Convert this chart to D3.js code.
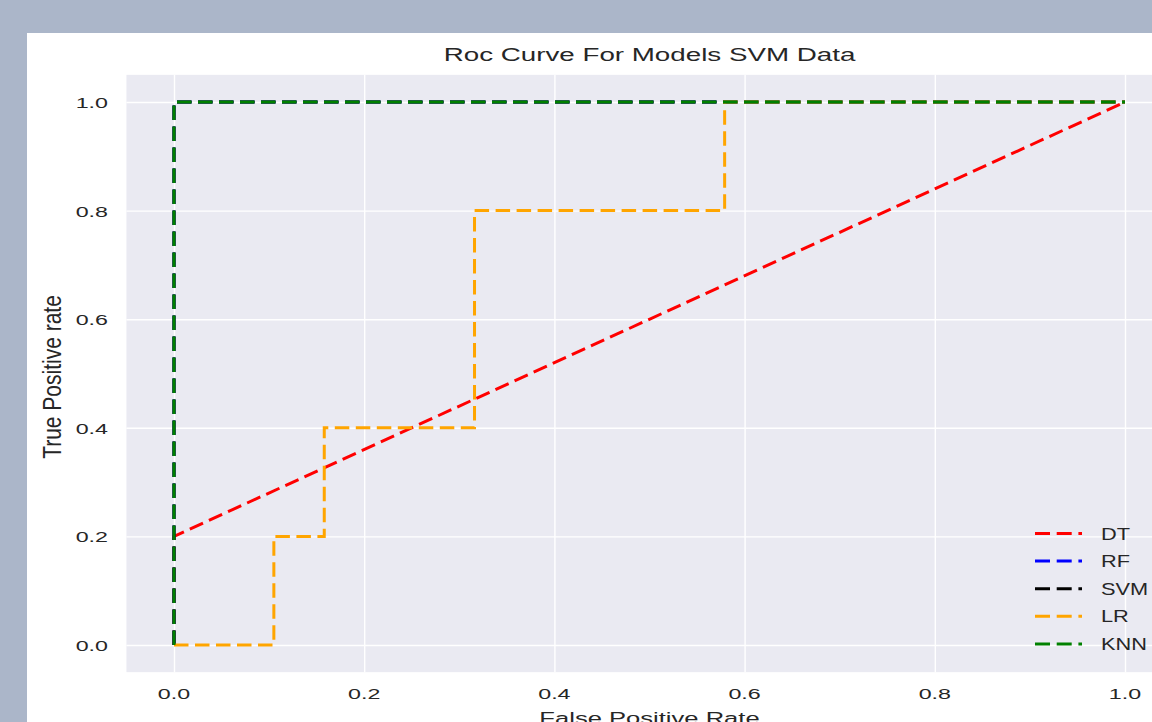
<!DOCTYPE html>
<html><head><meta charset="utf-8">
<script src="https://cdn.jsdelivr.net/npm/d3@7"></script>
<style>
html,body{margin:0;padding:0;background:#abb6c9;overflow:hidden}
svg{display:block}
text{font-family:"Liberation Sans",Arial,sans-serif;fill:#262626}
</style></head>
<body>
<svg id="c" width="1152" height="722"></svg>
<script>
// ---- data ----
const modelNames = ["DT","RF","SVM","LR","KNN"];
const modelColors = ["#ff0000","#0000ff","#000000","#ffa500","#008000"];
const fprDT  = [0, 0, 1];
const tprDT  = [0, 0.2, 1];
const fprRF  = [0, 0, 1];
const tprRF  = [0, 1, 1];
const fprSVM = [0, 0, 1];
const tprSVM = [0, 1, 1];
const fprLR  = [0, 0.105, 0.105, 0.158, 0.158, 0.316, 0.316, 0.579, 0.579, 1];
const tprLR  = [0, 0, 0.2, 0.2, 0.4, 0.4, 0.8, 0.8, 1, 1];
const fprKNN = [0, 0, 1];
const tprKNN = [0, 1, 1];
const xTicks = [0, 0.2, 0.4, 0.6, 0.8, 1.0];
const yTicks = [0, 0.2, 0.4, 0.6, 0.8, 1.0];
const titleText = "Roc Curve For Models SVM Data";
const xLabelText = "False Positive Rate";
const yLabelText = "True Positive rate";

const curves = [
  {name:"DT", fpr:fprDT, tpr:tprDT},
  {name:"RF", fpr:fprRF, tpr:tprRF},
  {name:"SVM", fpr:fprSVM, tpr:tprSVM},
  {name:"LR", fpr:fprLR, tpr:tprLR},
  {name:"KNN", fpr:fprKNN, tpr:tprKNN}
];

const svg = d3.select("#c");
// white figure panel
svg.append("rect").attr("x",27).attr("y",33).attr("width",1200).attr("height",800).attr("fill","#ffffff");

const x = d3.scaleLinear().domain([-0.05,1.05]).range([126.45,1172.55]);
const y = d3.scaleLinear().domain([-0.05,1.05]).range([672.15,74.85]);

// plot area
svg.append("rect").attr("x",x(-0.05)).attr("y",y(1.05))
  .attr("width",x(1.05)-x(-0.05)).attr("height",y(-0.05)-y(1.05)).attr("fill","#eaeaf2");

// grid via axes
const gx = svg.append("g").attr("transform",`translate(0,${y(-0.05)})`)
  .call(d3.axisBottom(x).tickValues(xTicks).tickSize(-(y(-0.05)-y(1.05))).tickFormat(""));
const gy = svg.append("g").attr("transform",`translate(${x(-0.05)},0)`)
  .call(d3.axisLeft(y).tickValues(yTicks).tickSize(-(x(1.05)-x(-0.05))).tickFormat(""));
[gx,gy].forEach(g=>{
  g.select(".domain").remove();
  g.selectAll(".tick line").attr("stroke","#ffffff").attr("stroke-width",1.4);
});

// tick labels (stretched horizontally like the reference)
const fmt = d3.format(".1f");
svg.append("g").selectAll("text").data(xTicks).join("text")
  .attr("transform",d=>`translate(${x(d)},699) scale(1.5,1)`)
  .attr("text-anchor","middle").attr("font-size",15.5).text(d=>fmt(d));
svg.append("g").selectAll("text").data(yTicks).join("text")
  .attr("transform",d=>`translate(108,${y(d)+6}) scale(1.5,1)`)
  .attr("text-anchor","end").attr("font-size",15.5).text(d=>fmt(d));

// title & labels
svg.append("text").attr("transform",`translate(${(x(-0.05)+x(1.05))/2},61) scale(1.5,1)`)
  .attr("text-anchor","middle").attr("font-size",18.5).text(titleText);
svg.append("text").attr("transform",`translate(${(x(-0.05)+x(1.05))/2},724) scale(1.55,1)`)
  .attr("text-anchor","middle").attr("font-size",16.5).text(xLabelText);
svg.append("text").attr("transform",`translate(61,377) scale(1.2,1) rotate(-90)`)
  .attr("text-anchor","middle").attr("font-size",21).text(yLabelText);

// curves
const line = d3.line().x(d=>x(d[0])).y(d=>y(d[1]));
const color = d3.scaleOrdinal().domain(modelNames).range(modelColors);
svg.append("g").selectAll("path").data(curves).join("path")
  .attr("d",c=>line(c.fpr.map((f,i)=>[f,c.tpr[i]])))
  .attr("fill","none").attr("stroke",c=>color(c.name))
  .attr("stroke-width",3).attr("stroke-dasharray","14.5,6.5");

// legend
const lg = svg.append("g");
const rows = lg.selectAll("g").data(modelNames).join("g")
  .attr("transform",(d,i)=>`translate(0,${533.5+i*27.6})`);
rows.append("line").attr("x1",1035).attr("x2",1082).attr("y1",0).attr("y2",0)
  .attr("stroke",d=>color(d)).attr("stroke-width",3).attr("stroke-dasharray","15,6.7");
rows.append("text").attr("transform","translate(1101,6) scale(1.28,1)")
  .attr("font-size",17).text(d=>d);
</script>
</body></html>
